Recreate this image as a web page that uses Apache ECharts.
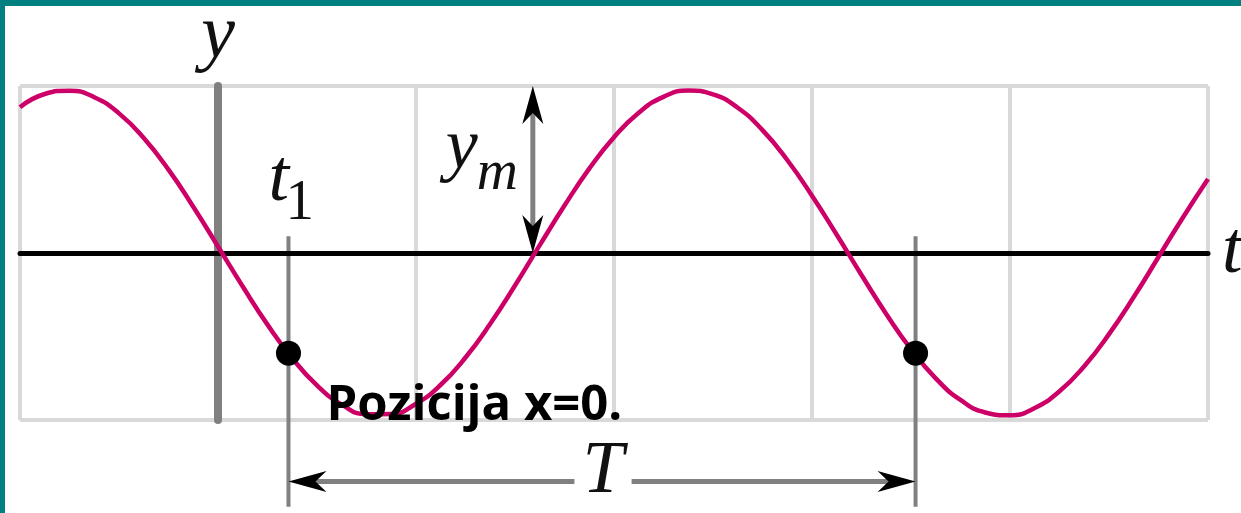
<!DOCTYPE html>
<html>
<head>
<meta charset="utf-8">
<title>Oscilacija u poziciji x=0</title>
<script src="https://cdn.jsdelivr.net/npm/echarts@6/dist/echarts.min.js"></script>
<style>
  html, body { margin: 0; padding: 0; background: #ffffff; }
  #chart { width: 1241px; height: 513px; }
</style>
</head>
<body>
<div id="chart"></div>
<script>
// Time in grid cells (the y axis sits at t = 0), sampled every 1/8 cell
const waveT = [
  -1, -0.875, -0.75, -0.625, -0.5, -0.375, -0.25, -0.125,
  0, 0.125, 0.25, 0.375, 0.5, 0.625, 0.75, 0.875,
  1, 1.125, 1.25, 1.375, 1.5, 1.625, 1.75, 1.875,
  2, 2.125, 2.25, 2.375, 2.5, 2.625, 2.75, 2.875,
  3, 3.125, 3.25, 3.375, 3.5, 3.625, 3.75, 3.875,
  4, 4.125, 4.25, 4.375, 4.5, 4.625, 4.75, 4.875,
  5
];
// Displacement y of the element at x = 0 (grid spans -1 .. 1)
const waveY = [
  0.873, 0.952, 0.972, 0.933, 0.836, 0.688, 0.499, 0.277,
  0.039, -0.201, -0.429, -0.630, -0.793, -0.908, -0.966, -0.964,
  -0.903, -0.789, -0.626, -0.424, -0.195, 0.047, 0.284, 0.505,
  0.693, 0.840, 0.935, 0.973, 0.950, 0.870, 0.736, 0.557,
  0.343, 0.109, -0.132, -0.365, -0.576, -0.751, -0.880, -0.955,
  -0.972, -0.928, -0.828, -0.678, -0.486, -0.264, -0.024, 0.216,
  0.443
];
// Two instants one period apart: t1 and t1 + T
const markT = [0.356, 3.523];
const markY = [-0.60, -0.60];
// Amplitude y_m: from the crest level down to the t axis
const ampT = 1.59;
const ampY = [1, 0];
// Level of the period arrow and extent of the guide lines (value units)
const periodY = -1.368;
const guideY = [0.10, -1.52];
// Texts
const axisNameY = 'y';
const axisNameT = 't';
const periodLabel = 'T';
const captionText = 'Pozicija x=0.';

const serif = '"Liberation Serif", "Times New Roman", serif';
const inkColor = '#111111';

const chart = echarts.init(document.getElementById('chart'), null, { renderer: 'canvas' });

// Double-headed arrow: gray shaft with black stealth heads at both ends
function renderArrow(params, api) {
  const a = api.coord([api.value(0), api.value(1)]);
  const b = api.coord([api.value(2), api.value(3)]);
  const dx = b[0] - a[0], dy = b[1] - a[1];
  const len = Math.hypot(dx, dy) || 1;
  const ux = dx / len, uy = dy / len;
  const nx = -uy, ny = ux;
  const L = 38, W = 10.5, N = 27;
  const head = (tip, sx, sy) => [
    [tip[0], tip[1]],
    [tip[0] + sx * L + nx * W, tip[1] + sy * L + ny * W],
    [tip[0] + sx * N, tip[1] + sy * N],
    [tip[0] + sx * L - nx * W, tip[1] + sy * L - ny * W]
  ];
  return {
    type: 'group',
    children: [
      { type: 'line',
        shape: { x1: a[0] + ux * N, y1: a[1] + uy * N, x2: b[0] - ux * N, y2: b[1] - uy * N },
        style: { stroke: '#808080', lineWidth: 5 } },
      { type: 'polygon', shape: { points: head(a, ux, uy) }, style: { fill: '#000000' } },
      { type: 'polygon', shape: { points: head(b, -ux, -uy) }, style: { fill: '#000000' } }
    ]
  };
}

// Vertical guide through each marked instant
function renderGuide(params, api) {
  const top = api.coord([api.value(0), guideY[0]]);
  const bottom = api.coord([api.value(0), guideY[1]]);
  return {
    type: 'line',
    shape: { x1: top[0], y1: top[1], x2: bottom[0], y2: bottom[1] },
    style: { stroke: '#808080', lineWidth: 4 }
  };
}

// Text anchored at a value point, with pixel offsets per part
function textMark(name, anchor, parts) {
  return {
    name: name,
    type: 'custom',
    z: 8,
    silent: true,
    clip: false,
    data: [anchor],
    renderItem: function (params, api) {
      const p = api.coord([api.value(0), api.value(1)]);
      return {
        type: 'group',
        children: parts.map(function (s) {
          return {
            type: 'text',
            x: p[0] + s.dx,
            y: p[1] + s.dy,
            style: Object.assign({
              fill: inkColor, align: 'left', verticalAlign: 'middle',
              fontFamily: serif, fontStyle: 'italic', fontSize: 74
            }, s.style)
          };
        })
      };
    }
  };
}

const option = {
  animation: false,
  backgroundColor: '#ffffff',
  graphic: [
    { type: 'rect', left: 0, top: 0, shape: { width: 1241, height: 6 }, style: { fill: '#008080' }, z: 100 },
    { type: 'rect', left: 0, top: 0, shape: { width: 5, height: 513 }, style: { fill: '#008080' }, z: 100 }
  ],
  grid: { left: 20, right: 33, top: 86, bottom: 93, containLabel: false, outerBoundsMode: 'none' },
  xAxis: {
    type: 'value', min: -1, max: 5, interval: 1, z: 2,
    name: axisNameT, nameLocation: 'end', nameGap: 14,
    nameTextStyle: {
      fontFamily: serif, fontStyle: 'italic', fontSize: 74, color: inkColor,
      align: 'left', verticalAlign: 'middle', lineHeight: 74, padding: [0, 0, 32, 0]
    },
    axisLine: { show: true, onZero: true, lineStyle: { color: '#000000', width: 5 } },
    axisTick: { show: false },
    axisLabel: { show: false },
    splitLine: {
      show: true,
      lineStyle: {
        color: ['#d9d9d9', 'rgba(0,0,0,0)', '#d9d9d9', '#d9d9d9', '#d9d9d9', '#d9d9d9', '#d9d9d9'],
        width: 4
      }
    }
  },
  yAxis: {
    type: 'value', min: -1, max: 1, interval: 1, z: 0,
    name: axisNameY, nameLocation: 'end', nameGap: 49,
    nameTextStyle: {
      fontFamily: serif, fontStyle: 'italic', fontSize: 76, color: inkColor,
      align: 'center', verticalAlign: 'middle', lineHeight: 76
    },
    axisLine: { show: true, onZero: true, lineStyle: { color: '#808080', width: 8 } },
    axisTick: { show: false },
    axisLabel: { show: false },
    splitLine: {
      show: true,
      lineStyle: { color: ['#d9d9d9', 'rgba(0,0,0,0)', '#d9d9d9'], width: 4 }
    }
  },
  series: [
    {
      name: 'guides', type: 'custom', z: 1, silent: true, clip: false,
      data: markT.map(function (t, i) { return [t, markY[i]]; }),
      renderItem: renderGuide
    },
    {
      name: 'y(t)', type: 'line', z: 3, silent: true,
      data: waveT.map(function (t, i) { return [t, waveY[i]]; }),
      smooth: 0.5, showSymbol: false, symbol: 'none',
      lineStyle: { color: '#cc0066', width: 4.5 }
    },
    {
      name: 'arrows', type: 'custom', z: 4, silent: true, clip: false,
      data: [
        [ampT, ampY[0], ampT, ampY[1]],
        [markT[0], periodY, markT[1], periodY]
      ],
      renderItem: renderArrow
    },
    {
      name: 'instants', type: 'scatter', z: 5, silent: true,
      data: markT.map(function (t, i) { return [t, markY[i]]; }),
      symbol: 'circle', symbolSize: 25,
      itemStyle: { color: '#000000', opacity: 1 }
    },
    textMark('t1', [markT[0], 0], [
      { dx: -20, dy: -72, style: { text: 't' } },
      { dx: -3, dy: -49, style: { text: '1', fontStyle: 'normal', fontSize: 57 } }
    ]),
    textMark('ym', [ampT, 0], [
      { dx: -87, dy: -104, style: { text: 'y', fontSize: 72 } },
      { dx: -56, dy: -79, style: { text: 'm', fontSize: 57 } }
    ]),
    textMark('T', [(markT[0] + markT[1]) / 2, periodY], [
      { dx: 1, dy: -9, style: { text: periodLabel, align: 'center', lineHeight: 44,
        backgroundColor: '#ffffff', padding: [0, 8] } }
    ]),
    textMark('caption', [markT[0], -1], [
      { dx: 38, dy: -14, style: {
        text: captionText, fontStyle: 'normal', fontWeight: 'bold', fontSize: 49,
        fontFamily: '"Comic Sans MS", "Open Sans", "Noto Sans", sans-serif', fill: '#000000'
      } }
    ])
  ]
};

chart.setOption(option);
</script>
</body>
</html>
